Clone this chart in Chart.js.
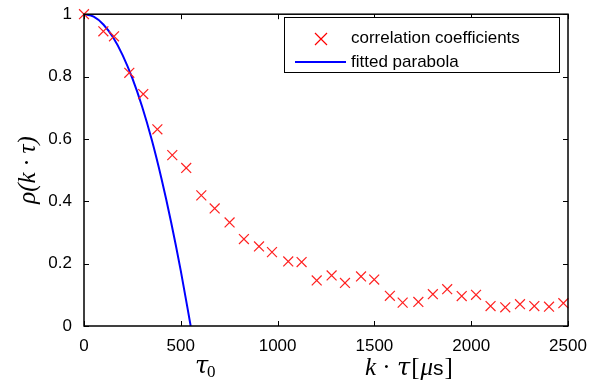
<!DOCTYPE html>
<html>
<head>
<meta charset="utf-8">
<script src="https://cdn.jsdelivr.net/npm/chart.js@4"></script>
<style>
  body { margin: 0; background: #fff; }
  #wrap { width: 602px; height: 390px; }
</style>
</head>
<body>
<div id="wrap"><canvas id="myChart" width="602" height="390"></canvas></div>
<script>
const lagTimes = [0, 100, 155, 234, 306, 379, 456, 528, 606, 675, 752, 826, 904, 971,
  1055, 1124, 1202, 1279, 1348, 1431, 1499, 1580, 1646, 1727, 1802, 1876, 1951, 2025,
  2100, 2176, 2252, 2326, 2402, 2476];
const rhoValues = [1.0, 0.945, 0.929, 0.812, 0.744, 0.631, 0.548, 0.507, 0.419, 0.377,
  0.332, 0.279, 0.255, 0.237, 0.207, 0.205, 0.146, 0.162, 0.138, 0.159, 0.149, 0.097,
  0.075, 0.077, 0.102, 0.118, 0.096, 0.100, 0.064, 0.060, 0.070, 0.064, 0.062, 0.073];

// fitted parabola, points
const parabolaX = [0, 50, 100, 150, 200, 250, 300, 350, 400, 450, 500, 551];
const parabolaY = [1.0, 0.992, 0.967, 0.926, 0.868, 0.794, 0.704, 0.597, 0.473, 0.333, 0.177, 0.0];

const xTicks = [0, 500, 1000, 1500, 2000, 2500];
const yTicks = [0, 0.2, 0.4, 0.6, 0.8, 1];

const tickFont = { family: "Liberation Sans, Arial, sans-serif", size: 17 };

const scatterData = lagTimes.map((x, i) => ({ x: x, y: rhoValues[i] }));
const parabolaData = parabolaX.map((x, i) => ({ x: x, y: parabolaY[i] }));

// box, inward ticks, math labels and legend
const decorations = {
  id: "decorations",
  afterDraw(chart) {
    const ctx = chart.ctx;
    const a = chart.chartArea;
    const xs = chart.scales.x, ys = chart.scales.y;
    ctx.save();
    ctx.strokeStyle = "#000";
    ctx.lineWidth = 1.5;
    ctx.strokeRect(a.left, a.top, a.right - a.left, a.bottom - a.top);
    ctx.lineWidth = 1;
    xTicks.forEach(v => {
      const px = Math.round(xs.getPixelForValue(v)) + 0.5;
      ctx.beginPath();
      ctx.moveTo(px, a.bottom); ctx.lineTo(px, a.bottom - 5);
      ctx.moveTo(px, a.top); ctx.lineTo(px, a.top + 5);
      ctx.stroke();
    });
    yTicks.forEach(v => {
      const py = Math.round(ys.getPixelForValue(v)) + 0.5;
      ctx.beginPath();
      ctx.moveTo(a.left, py); ctx.lineTo(a.left + 5, py);
      ctx.moveTo(a.right, py); ctx.lineTo(a.right - 5, py);
      ctx.stroke();
    });

    // axis labels (LaTeX-like serif)
    ctx.fillStyle = "#000";
    ctx.textBaseline = "alphabetic";
    ctx.textAlign = "left";
    ctx.font = "italic 24px 'DejaVu Serif', 'Liberation Serif', serif";
    ctx.fillText("τ", 195, 373);
    ctx.font = "17px 'Liberation Serif', serif";
    ctx.fillText("0", 207, 377);

    let x = 365;
    const base = 375;
    ctx.font = "italic 25px 'Liberation Serif', serif";
    ctx.fillText("k", x, base); x += ctx.measureText("k").width;
    ctx.font = "25px 'Liberation Serif', serif";
    ctx.fillText(" · ", x, base); x += ctx.measureText(" · ").width;
    ctx.font = "italic 24px 'DejaVu Serif', 'Liberation Serif', serif";
    ctx.fillText("τ", x, base); x += ctx.measureText("τ").width + 1;
    ctx.font = "25px 'Liberation Serif', serif";
    ctx.fillText("[", x, base); x += ctx.measureText("[").width + 1;
    ctx.font = "italic 25px 'Liberation Serif', serif";
    ctx.fillText("μ", x, base); x += ctx.measureText("μ").width;
    ctx.font = "21px 'Liberation Sans', sans-serif";
    ctx.fillText("s", x, base); x += ctx.measureText("s").width + 1;
    ctx.font = "25px 'Liberation Serif', serif";
    ctx.fillText("]", x, base);

    ctx.save();
    ctx.translate(35, 170);
    ctx.rotate(-Math.PI / 2);
    ctx.textAlign = "center";
    ctx.font = "italic 25px 'Liberation Serif', serif";
    ctx.fillText("ρ(k · τ)", 0, 0);
    ctx.restore();

    // legend
    ctx.fillStyle = "#fff";
    ctx.fillRect(284, 17, 275, 55);
    ctx.lineWidth = 1;
    ctx.strokeStyle = "#000";
    ctx.strokeRect(284.5, 17.5, 275, 55);
    ctx.strokeStyle = "#ff0000";
    ctx.lineWidth = 1.2;
    ctx.beginPath();
    ctx.moveTo(315, 33); ctx.lineTo(327, 45);
    ctx.moveTo(327, 33); ctx.lineTo(315, 45);
    ctx.stroke();
    ctx.strokeStyle = "#0000ff";
    ctx.lineWidth = 2;
    ctx.beginPath();
    ctx.moveTo(295, 62); ctx.lineTo(346, 62);
    ctx.stroke();
    ctx.fillStyle = "#000";
    ctx.font = "17px 'Liberation Sans', Arial, sans-serif";
    ctx.textBaseline = "middle";
    ctx.fillText("correlation coefficients", 351, 38);
    ctx.fillText("fitted parabola", 351, 62);
    ctx.restore();
  }
};

const config = {
  type: "scatter",
  data: {
    datasets: [
      {
        label: "correlation coefficients",
        data: scatterData,
        pointStyle: "crossRot",
        pointRadius: 7,
        borderColor: "#ff2020",
        backgroundColor: "#ff2020",
        borderWidth: 1.2,
        showLine: false,
        clip: false,
      },
      {
        label: "fitted parabola",
        data: parabolaData,
        showLine: true,
        pointRadius: 0,
        borderColor: "#0000ff",
        borderWidth: 2,
        cubicInterpolationMode: "monotone",
        fill: false,
      },
    ],
  },
  options: {
    responsive: false,
    animation: false,
    layout: { padding: { top: 12, right: 34, left: 0, bottom: 0 } },
    plugins: {
      legend: { display: false },
      tooltip: { enabled: false },
    },
    scales: {
      x: {
        type: "linear",
        min: 0,
        max: 2500,
        grid: { display: false },
        border: { display: false },
        ticks: {
          stepSize: 500, color: "#000", font: tickFont, padding: 2,
          callback: (v) => String(v),
        },
        afterFit: (s) => { s.height = 64; },
      },
      y: {
        min: 0,
        max: 1,
        grid: { display: false },
        border: { display: false },
        ticks: {
          stepSize: 0.2, color: "#000", font: tickFont, padding: 4,
          callback: (v) => String(Math.round(v * 10) / 10),
        },
        afterFit: (s) => { s.width = 84; },
      },
    },
  },
  plugins: [decorations],
};

const myChart = new Chart(document.getElementById("myChart"), config);
</script>
</body>
</html>
